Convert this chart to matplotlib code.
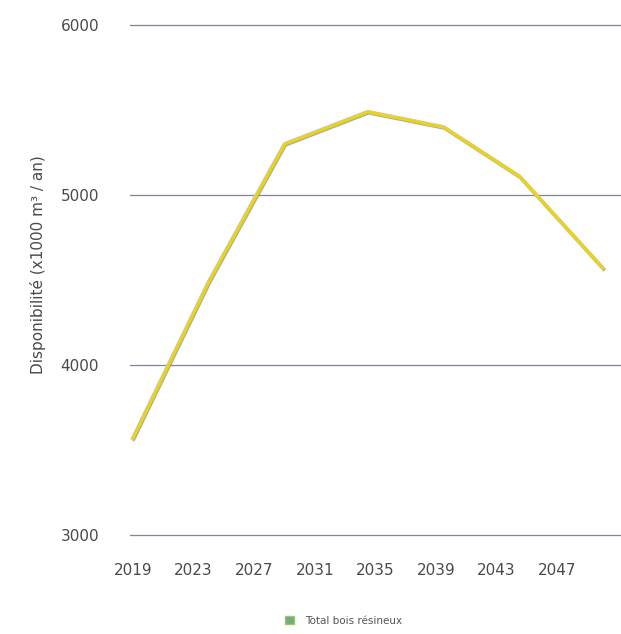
import matplotlib
matplotlib.use("Agg")
import matplotlib.pyplot as plt
import matplotlib.patheffects as pe
from matplotlib.patches import Patch

years = [2019, 2024, 2029, 2034.5, 2039.5, 2044.5, 2050]
total_resineux = [3570, 4490, 5300, 5490, 5400, 5110, 4570]
xtick_years = [2019, 2023, 2027, 2031, 2035, 2039, 2043, 2047]
yticks = [3000, 4000, 5000, 6000]

fig = plt.figure(figsize=(6.21, 6.34), dpi=100)
ax = fig.add_axes([0.209, 0.151, 0.791, 0.815])

ax.plot(years, total_resineux, color="#e6d22e", lw=2.6, solid_joinstyle="round",
        path_effects=[pe.SimpleLineShadow(offset=(0.6, -0.8), shadow_color="#8a9aa8", alpha=0.8),
                      pe.Normal()], zorder=3)

ax.set_xlim(2018.8, 2051.2)
ax.set_ylim(2980, 6020)
ax.set_xticks(xtick_years)
ax.set_yticks(yticks)
ax.tick_params(axis="both", length=0, labelsize=11, labelcolor="#4a4a4a")
ax.tick_params(axis="y", pad=22)
ax.tick_params(axis="x", pad=18)
ax.grid(axis="y", color="#7d82b0", lw=0.9)
ax.grid(axis="x", visible=False)
for s in ax.spines.values():
    s.set_visible(False)

ax.set_ylabel("Disponibilité (x1000 m³ / an)", fontsize=11, color="#4a4a4a")
ax.yaxis.set_label_coords(-0.17, 0.53)

handle = Patch(facecolor="#72ad7a", edgecolor="#9fc47a")
fig.legend([handle], ["Total bois résineux"], loc="center", bbox_to_anchor=(0.553, 0.021),
           frameon=False, fontsize=7.5, labelcolor="#555555", handlelength=0.9,
           handleheight=0.9, handletextpad=1.0)

fig.savefig("out.png", dpi=100)
